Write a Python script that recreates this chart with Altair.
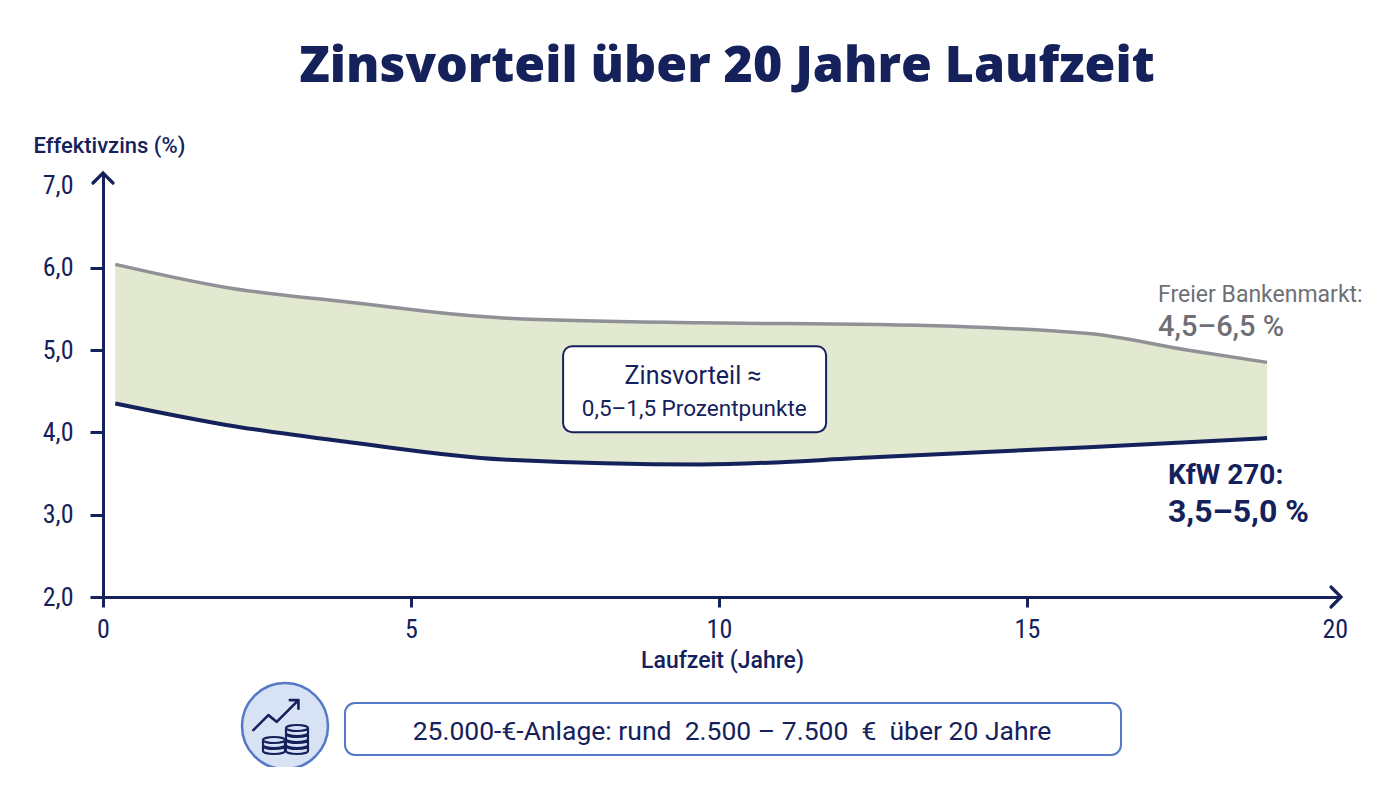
import altair as alt
import pandas as pd

# ---- data ----
years = [0.2, 2.0, 4.0, 6.5, 9.7, 12.6, 16.0, 17.6, 18.9]
bank = [6.04, 5.76, 5.58, 5.39, 5.33, 5.31, 5.20, 5.00, 4.85]
kfw = [4.35, 4.09, 3.88, 3.67, 3.61, 3.70, 3.82, 3.88, 3.93]
x_ticks = [0, 5, 10, 15, 20]
y_ticks = [2, 3, 4, 5, 6, 7]

title_text = "Zinsvorteil über 20 Jahre Laufzeit"
x_title = "Laufzeit (Jahre)"
y_title = "Effektivzins (%)"
box_lines = ["Zinsvorteil ≈", "0,5–1,5 Prozentpunkte"]
bank_lines = ["Freier Bankenmarkt:", "4,5–6,5 %"]
kfw_lines = ["KfW 270:", "3,5–5,0 %"]
NB = "\u00a0"
bottom_text = f"25.000-€-Anlage: rund {NB}2.500{NB}–{NB}7.500 {NB}€ {NB}über 20 Jahre"

NAVY = "#15215b"
GRAY = "#8f9196"
GRAYTXT = "#6f7075"
FILL = "#e3e8d0"
BLUE = "#5479c6"
ICONBG = "#d8e2f5"
NARROW = "'Liberation Sans Narrow', 'Roboto Condensed', sans-serif"
SANS = "Roboto, sans-serif"
TITLEFONT = "'Open Sans', sans-serif"

df = pd.DataFrame({"Jahr": years, "Bank": bank, "KfW": kfw})

X_DOMAIN = [0, 20.1]
Y_DOMAIN = [2, 7.15]
W, H = 1238, 424

xscale = alt.Scale(domain=X_DOMAIN, nice=False, zero=False)
yscale = alt.Scale(domain=Y_DOMAIN, nice=False, zero=False)

x_axis = alt.Axis(
    values=x_ticks, title=x_title, grid=False, format="d",
    domainColor=NAVY, domainWidth=3, tickColor=NAVY, tickWidth=3, tickSize=10,
    tickOpacity={"expr": "datum.value == 20 ? 0 : 1"},
    labelFont=NARROW, labelFontSize=26, labelColor=NAVY, labelPadding=9,
    labelFlush=False, labelOverlap=False,
    titleFont=SANS, titleFontSize=23, titleColor=NAVY, titleFontWeight=500,
    titlePadding=7,
)
y_axis = alt.Axis(
    values=y_ticks, title=y_title, grid=False,
    domainColor=NAVY, domainWidth=3, tickColor=NAVY, tickWidth=3, tickSize=13,
    tickOpacity={"expr": "datum.value == 7 ? 0 : 1"},
    labelExpr="replace(format(datum.value, '.1f'), '.', ',')",
    labelFont=NARROW, labelFontSize=26, labelColor=NAVY, labelPadding=17,
    labelFlush=False, labelOverlap=False,
    titleFont=SANS, titleFontSize=22, titleColor=NAVY, titleFontWeight=500,
    titleAngle=0, titleAlign="left", titleBaseline="middle", titleX=-70, titleY=-28,
)

X = alt.X("Jahr:Q", scale=xscale, axis=x_axis)

base = alt.Chart(df)
area = base.mark_area(color=FILL, interpolate="monotone", opacity=1).encode(
    x=X, y=alt.Y("Bank:Q", scale=yscale, axis=y_axis), y2="KfW:Q"
)
line_bank = base.mark_line(color=GRAY, strokeWidth=3.5, interpolate="monotone").encode(
    x=X, y=alt.Y("Bank:Q", scale=yscale, axis=y_axis)
)
line_kfw = base.mark_line(color=NAVY, strokeWidth=4, interpolate="monotone").encode(
    x=X, y=alt.Y("KfW:Q", scale=yscale, axis=y_axis)
)

# axis arrow heads
arrow_right = alt.Chart().mark_point(
    shape="M -1 -1 L 0 0 L -1 1", size=400, filled=False, stroke=NAVY,
    strokeWidth=3.2, opacity=1, strokeCap="round", strokeJoin="miter"
).encode(x=alt.datum(X_DOMAIN[1]), y=alt.datum(Y_DOMAIN[0]))
arrow_up = alt.Chart().mark_point(
    shape="M -1 1 L 0 0 L 1 1", size=400, filled=False, stroke=NAVY,
    strokeWidth=3.2, opacity=1, strokeCap="round", strokeJoin="miter"
).encode(x=alt.datum(X_DOMAIN[0]), y=alt.datum(Y_DOMAIN[1]))

# annotation box in the band
box = alt.Chart().mark_rect(
    fill="white", stroke=NAVY, strokeWidth=2, cornerRadius=9
).encode(x=alt.datum(7.47), x2=alt.datum(11.74), y=alt.datum(5.046), y2=alt.datum(4.002))
box_t1 = alt.Chart().mark_text(
    text=box_lines[0], font=SANS, fontSize=25, color=NAVY, align="center", baseline="middle"
).encode(x=alt.datum(9.58), y=alt.datum(4.68))
box_t2 = alt.Chart().mark_text(
    text=box_lines[1], font=SANS, fontSize=22.5, color=NAVY, align="center", baseline="middle"
).encode(x=alt.datum(9.6), y=alt.datum(4.28))

# right labels
bank_t1 = alt.Chart().mark_text(
    text=bank_lines[0], font=SANS, fontSize=23, color=GRAYTXT, align="left", baseline="middle"
).encode(x=alt.datum(17.13), y=alt.datum(5.67))
bank_t2 = alt.Chart().mark_text(
    text=bank_lines[1], font=SANS, fontSize=29, fontWeight=500, color=GRAYTXT, align="left", baseline="middle"
).encode(x=alt.datum(17.13), y=alt.datum(5.28))
kfw_t1 = alt.Chart().mark_text(
    text=kfw_lines[0], font=SANS, fontSize=28, fontWeight="bold", color=NAVY, align="left", baseline="middle"
).encode(x=alt.datum(17.29), y=alt.datum(3.47))
kfw_t2 = alt.Chart().mark_text(
    text=kfw_lines[1], font=SANS, fontSize=32, fontWeight="bold", color=NAVY, align="left", baseline="middle"
).encode(x=alt.datum(17.29), y=alt.datum(3.03))

# title (positions relative to plot origin at page px (103,173))
title = alt.Chart().mark_text(
    text=title_text, font=TITLEFONT, fontSize=50, fontWeight=800, color=NAVY,
    align="center", baseline="middle"
).encode(x=alt.value(624), y=alt.value(-106))

# bottom icon
icon_circle = alt.Chart().mark_point(
    shape="circle", size=7396, filled=True, fill=ICONBG, stroke=BLUE, strokeWidth=2.5, opacity=1
).encode(x=alt.value(182), y=alt.value(553))
trend_path = "M -0.99 0.13 L -0.52 -0.34 L -0.26 -0.13 L 0.42 -0.81 M 0.15 -0.81 L 0.42 -0.81 L 0.42 -0.54"
icon_trend = alt.Chart().mark_point(
    shape=trend_path, size=4096, filled=False, stroke=NAVY, strokeWidth=2.6, opacity=1,
    strokeCap="round", strokeJoin="round"
).encode(x=alt.value(182), y=alt.value(553))
coin_path = ("M -1.1 -0.25 A 1.1 0.3 0 0 1 1.1 -0.25 L 1.1 0.25 A 1.1 0.3 0 0 1 -1.1 0.25 Z "
             "M -1.1 -0.25 A 1.1 0.3 0 0 0 1.1 -0.25")
coin_layers = []
for dx, dy in [(12, 22.5), (12, 16.5), (12, 10.5), (12, 4.5), (-11, 22.5), (-11, 16.5)]:
    coin_layers.append(
        alt.Chart().mark_point(
            shape=coin_path, size=400, filled=True, fill=ICONBG, stroke=NAVY,
            strokeWidth=2.2, opacity=1
        ).encode(x=alt.value(182 + dx), y=alt.value(553 + dy))
    )

bottom_box = alt.Chart().mark_rect(
    fill="white", stroke=BLUE, strokeWidth=2, cornerRadius=10
).encode(x=alt.value(242), x2=alt.value(1018), y=alt.value(530), y2=alt.value(582))
bottom_t = alt.Chart().mark_text(
    text=bottom_text, font=SANS, fontSize=26.5, fontWeight="normal", color=NAVY, align="center", baseline="middle"
).encode(x=alt.value(629), y=alt.value(559))

chart = alt.layer(
    area, line_bank, line_kfw, arrow_right, arrow_up,
    box, box_t1, box_t2, bank_t1, bank_t2, kfw_t1, kfw_t2,
    title, icon_circle, *coin_layers, icon_trend, bottom_box, bottom_t,
).properties(
    width=W, height=H,
    autosize=alt.AutoSizeParams(type="none"),
    padding={"left": 95, "top": 165, "right": 45, "bottom": 170},
).configure(background="white").configure_view(stroke=None)

chart.save("out.html", embed_options={"renderer": "svg", "actions": False})
